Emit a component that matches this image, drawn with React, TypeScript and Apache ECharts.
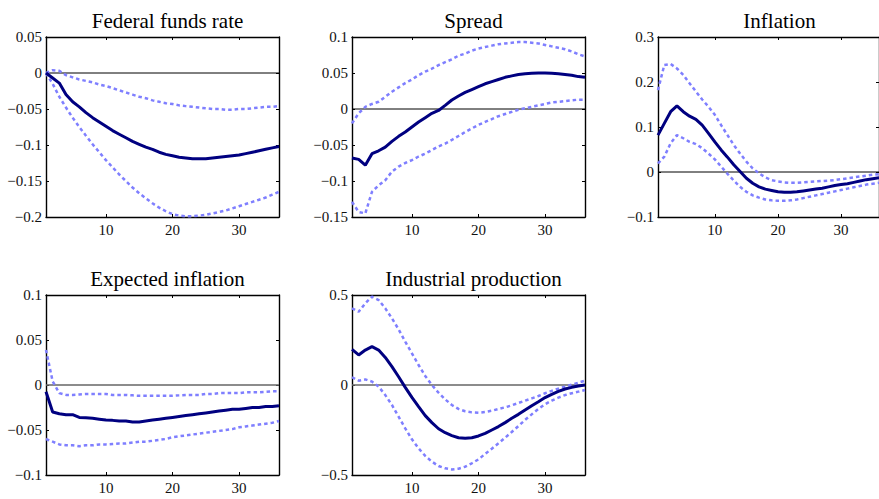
import React, { useEffect, useRef } from "react";
import * as echarts from "echarts";

const horizon = [1, 2, 3, 4, 5, 6, 7, 8, 9, 10, 11, 12, 13, 14, 15, 16, 17, 18, 19, 20, 21, 22, 23, 24, 25, 26, 27, 28, 29, 30, 31, 32, 33, 34, 35, 36];

const titles = ["Federal funds rate", "Spread", "Inflation", "Expected inflation", "Industrial production"];

const ffrMid = [0, -0.007, -0.014, -0.03, -0.04, -0.047, -0.055, -0.062, -0.068, -0.074, -0.08, -0.085, -0.09, -0.095, -0.099, -0.103, -0.106, -0.11, -0.113, -0.115, -0.117, -0.118, -0.119, -0.119, -0.119, -0.118, -0.117, -0.116, -0.115, -0.114, -0.112, -0.11, -0.108, -0.106, -0.104, -0.102];
const ffrUp = [0, 0.004, 0.003, -0.003, -0.006, -0.009, -0.011, -0.013, -0.016, -0.018, -0.021, -0.024, -0.027, -0.03, -0.033, -0.035, -0.038, -0.04, -0.042, -0.043, -0.045, -0.046, -0.047, -0.048, -0.049, -0.05, -0.05, -0.051, -0.051, -0.05, -0.05, -0.049, -0.048, -0.047, -0.047, -0.046];
const ffrLo = [0, -0.015, -0.033, -0.048, -0.062, -0.075, -0.087, -0.099, -0.11, -0.121, -0.131, -0.141, -0.15, -0.159, -0.167, -0.174, -0.181, -0.187, -0.192, -0.196, -0.198, -0.199, -0.199, -0.198, -0.197, -0.195, -0.193, -0.191, -0.188, -0.185, -0.182, -0.179, -0.176, -0.173, -0.169, -0.165];

const sprMid = [-0.068, -0.07, -0.078, -0.062, -0.058, -0.053, -0.045, -0.038, -0.032, -0.025, -0.018, -0.012, -0.006, -0.002, 0.005, 0.0125, 0.018, 0.023, 0.027, 0.031, 0.035, 0.038, 0.041, 0.044, 0.046, 0.048, 0.049, 0.0495, 0.05, 0.05, 0.0495, 0.049, 0.048, 0.047, 0.045, 0.044];
const sprUp = [-0.02, -0.006, 0.003, 0.007, 0.01, 0.017, 0.024, 0.03, 0.036, 0.041, 0.047, 0.052, 0.056, 0.061, 0.065, 0.069, 0.074, 0.077, 0.081, 0.084, 0.086, 0.088, 0.09, 0.091, 0.092, 0.093, 0.093, 0.092, 0.091, 0.089, 0.087, 0.085, 0.083, 0.08, 0.076, 0.073];
const sprLo = [-0.129, -0.143, -0.145, -0.115, -0.106, -0.099, -0.087, -0.08, -0.075, -0.071, -0.066, -0.062, -0.057, -0.052, -0.048, -0.043, -0.0375, -0.032, -0.027, -0.022, -0.018, -0.014, -0.01, -0.007, -0.004, -0.001, 0.001, 0.003, 0.005, 0.007, 0.009, 0.01, 0.011, 0.012, 0.013, 0.013];

const infMid = [0.082, 0.108, 0.134, 0.147, 0.134, 0.124, 0.117, 0.104, 0.086, 0.067, 0.049, 0.033, 0.016, 0.001, -0.014, -0.025, -0.033, -0.038, -0.041, -0.044, -0.045, -0.045, -0.044, -0.042, -0.04, -0.038, -0.036, -0.033, -0.03, -0.028, -0.026, -0.023, -0.02, -0.017, -0.015, -0.013];
const infUp = [0.182, 0.238, 0.24, 0.23, 0.216, 0.197, 0.179, 0.161, 0.145, 0.127, 0.104, 0.082, 0.06, 0.041, 0.023, 0.008, -0.003, -0.012, -0.018, -0.021, -0.023, -0.024, -0.024, -0.023, -0.022, -0.021, -0.02, -0.019, -0.018, -0.016, -0.014, -0.012, -0.01, -0.008, -0.006, -0.005];
const infLo = [0.019, 0.034, 0.064, 0.082, 0.075, 0.067, 0.062, 0.053, 0.041, 0.028, 0.012, -0.004, -0.019, -0.033, -0.044, -0.052, -0.057, -0.061, -0.063, -0.064, -0.064, -0.063, -0.061, -0.058, -0.055, -0.052, -0.049, -0.046, -0.043, -0.04, -0.037, -0.034, -0.031, -0.028, -0.026, -0.024];

const expMid = [-0.0074, -0.03, -0.032, -0.033, -0.033, -0.036, -0.0365, -0.037, -0.038, -0.039, -0.0393, -0.04, -0.04, -0.041, -0.041, -0.04, -0.039, -0.038, -0.037, -0.036, -0.035, -0.034, -0.033, -0.032, -0.031, -0.03, -0.029, -0.028, -0.027, -0.027, -0.026, -0.025, -0.025, -0.024, -0.024, -0.023];
const expUp = [0.039, 0.004, -0.009, -0.011, -0.011, -0.0105, -0.01, -0.01, -0.01, -0.01, -0.011, -0.011, -0.011, -0.0115, -0.012, -0.012, -0.012, -0.012, -0.012, -0.012, -0.0115, -0.011, -0.011, -0.011, -0.01, -0.01, -0.009, -0.009, -0.009, -0.009, -0.008, -0.008, -0.008, -0.0075, -0.007, -0.007];
const expLo = [-0.06, -0.063, -0.066, -0.067, -0.067, -0.068, -0.067, -0.067, -0.066, -0.066, -0.0655, -0.065, -0.065, -0.064, -0.063, -0.063, -0.062, -0.061, -0.06, -0.058, -0.057, -0.056, -0.055, -0.054, -0.053, -0.052, -0.051, -0.05, -0.049, -0.047, -0.046, -0.045, -0.044, -0.043, -0.042, -0.04];

const ipMid = [0.198, 0.167, 0.194, 0.213, 0.194, 0.153, 0.102, 0.046, -0.013, -0.069, -0.12, -0.17, -0.209, -0.243, -0.265, -0.281, -0.293, -0.296, -0.293, -0.283, -0.269, -0.25, -0.231, -0.209, -0.185, -0.163, -0.139, -0.115, -0.093, -0.07, -0.052, -0.035, -0.022, -0.013, -0.006, 0];
const ipUp = [0.426, 0.407, 0.454, 0.491, 0.472, 0.426, 0.37, 0.309, 0.241, 0.176, 0.111, 0.05, 0, -0.043, -0.08, -0.111, -0.133, -0.146, -0.152, -0.154, -0.15, -0.143, -0.133, -0.124, -0.113, -0.1, -0.087, -0.074, -0.061, -0.046, -0.033, -0.02, -0.009, 0.002, 0.013, 0.024];
const ipLo = [0.043, 0.024, 0.031, 0.019, -0.009, -0.056, -0.111, -0.176, -0.241, -0.302, -0.352, -0.394, -0.426, -0.45, -0.463, -0.469, -0.465, -0.454, -0.435, -0.413, -0.383, -0.354, -0.324, -0.293, -0.261, -0.228, -0.194, -0.163, -0.133, -0.107, -0.087, -0.07, -0.056, -0.046, -0.037, -0.028];

const mids = [ffrMid, sprMid, infMid, expMid, ipMid];
const ups = [ffrUp, sprUp, infUp, expUp, ipUp];
const los = [ffrLo, sprLo, infLo, expLo, ipLo];

const yMin = [-0.2, -0.15, -0.1, -0.1, -0.5];
const yMax = [0.05, 0.1, 0.3, 0.1, 0.5];
const yStep = [0.05, 0.05, 0.1, 0.05, 0.5];
const xTicks = [10, 20, 30];

const FONT_TITLE = "Liberation Serif";
const FONT_TICK = "Liberation Serif";

function fmt(v: number): string {
  const r = Math.round(v * 1000) / 1000;
  if (r === 0) return "0";
  return r < 0 ? "\u2212" + String(-r) : String(r);
}

function pairs(ys: number[]): number[][] {
  return horizon.map((x, i) => [x, ys[i]]);
}

export default function App() {
  const ref = useRef<HTMLDivElement>(null);
  useEffect(() => {
    if (!ref.current) return;
    const chart = echarts.init(ref.current, undefined, { renderer: "svg" });
    const lefts = [46, 352, 658];
    const tops = [37, 295];
    const W = 233;
    const H = 180;
    const grids: any[] = [];
    const xAxes: any[] = [];
    const yAxes: any[] = [];
    const series: any[] = [];
    const title: any[] = [];
    titles.forEach((t, i) => {
      const col = i % 3;
      const row = Math.floor(i / 3);
      const left = lefts[col];
      const top = tops[row];
      grids.push({ left, top, width: W, height: H, containLabel: false });
      title.push({
        text: t,
        left: left + W / 2,
        top: top - 32,
        textAlign: "center",
        textStyle: { fontFamily: FONT_TITLE, fontSize: 21, fontWeight: "normal", color: "#000" },
      });
      const axLine = { show: true, onZero: false, lineStyle: { color: "#000", width: 1.4 } };
      const tick = { show: true, inside: true, length: 3, lineStyle: { color: "#000", width: 1 } };
      ["bottom", "top"].forEach((pos, k) => {
        xAxes.push({
          gridIndex: i,
          type: "value",
          position: pos,
          min: 1,
          max: 36,
          axisLine: axLine,
          axisTick: { ...tick, customValues: xTicks },
          axisLabel: {
            show: k === 0,
            customValues: xTicks,
            color: "#111",
            fontFamily: FONT_TICK,
            fontSize: 15,
            margin: 5,
          },
          splitLine: { show: false },
        });
      });
      ["left", "right"].forEach((pos, k) => {
        yAxes.push({
          gridIndex: i,
          type: "value",
          position: pos,
          min: yMin[i],
          max: yMax[i],
          interval: yStep[i],
          axisLine: axLine,
          axisTick: tick,
          axisLabel: {
            show: k === 0,
            color: "#111",
            fontFamily: FONT_TICK,
            fontSize: 15,
            margin: 4,
            formatter: (v: number) => fmt(v),
          },
          splitLine: { show: false },
        });
      });
      const xi = i * 2;
      const yi = i * 2;
      series.push({
        type: "line",
        xAxisIndex: xi,
        yAxisIndex: yi,
        data: [[horizon[0], 0], [horizon[horizon.length - 1], 0]],
        showSymbol: false,
        symbol: "none",
        silent: true,
        z: 1,
        lineStyle: { color: row === 0 ? "#000" : "#666", width: row === 0 ? 1 : 1.5 },
      });
      [ups[i], los[i]].forEach((d) => {
        series.push({
          type: "line",
          xAxisIndex: xi,
          yAxisIndex: yi,
          data: pairs(d),
          showSymbol: false,
          symbol: "none",
          z: 2,
          lineStyle: { color: "#7f7fff", width: 2.5, type: [3.5, 3], cap: "butt" },
        });
      });
      series.push({
        type: "line",
        xAxisIndex: xi,
        yAxisIndex: yi,
        data: pairs(mids[i]),
        showSymbol: false,
        symbol: "none",
        z: 3,
        lineStyle: { color: "#000080", width: 3 },
      });
    });
    chart.setOption({
      animation: false,
      backgroundColor: "#fff",
      title,
      grid: grids,
      xAxis: xAxes,
      yAxis: yAxes,
      series,
    });
    return () => chart.dispose();
  }, []);
  return <div ref={ref} style={{ position: "absolute", left: 0, top: 0, width: 879, height: 499 }} />;
}
